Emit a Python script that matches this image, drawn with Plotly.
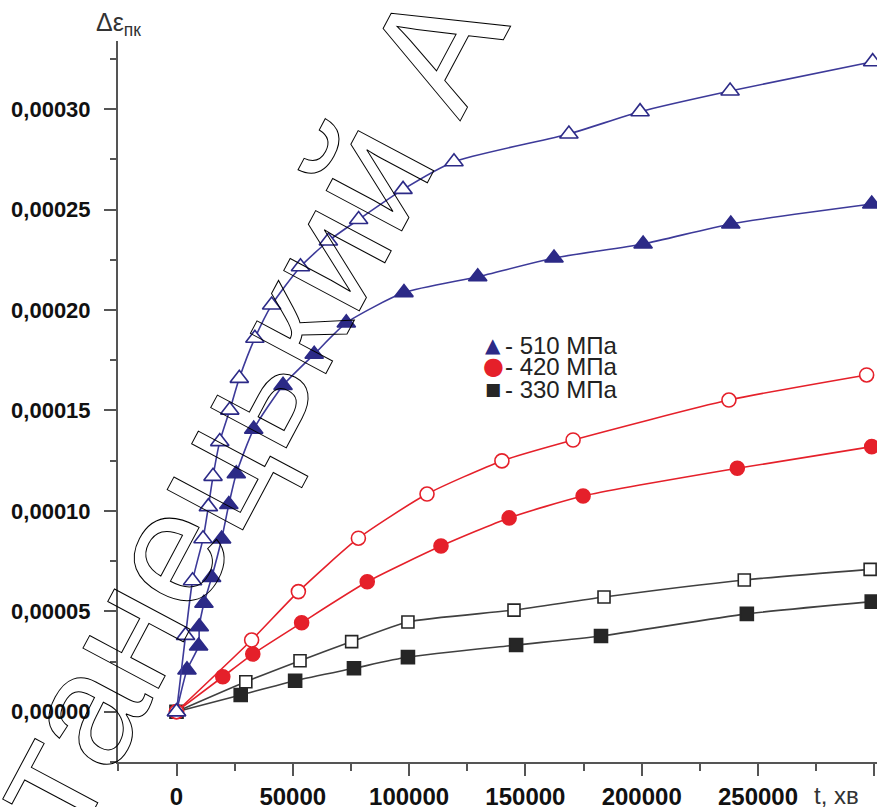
import base64
import plotly.graph_objects as go

# ---- measured creep strain increments, Δε_пк vs time t (хв) ----
# 510 МПа, open triangles (upper curve)
t_510_open = [0, 3900, 6900, 11400, 13700, 15700, 18600, 22900, 27000, 33700,
              40900, 53300, 65300, 78300, 97400, 119300, 168700, 199300, 238000, 299300]
e_510_open = [0.0, 3.80e-5, 6.52e-5, 8.61e-5, 1.021e-4, 1.172e-4, 1.345e-4, 1.502e-4,
              1.660e-4, 1.860e-4, 2.025e-4, 2.216e-4, 2.344e-4, 2.451e-4, 2.601e-4,
              2.739e-4, 2.877e-4, 2.988e-4, 3.091e-4, 3.237e-4]

# 510 МПа, filled triangles
t_510_fill = [0, 4500, 9500, 9800, 11800, 15100, 19400, 22500, 25700, 33200, 45800,
              59200, 73000, 97800, 129500, 162300, 200600, 238300, 298900]
e_510_fill = [0.0, 2.08e-5, 3.27e-5, 4.23e-5, 5.40e-5, 6.68e-5, 8.60e-5, 1.032e-4,
              1.185e-4, 1.407e-4, 1.625e-4, 1.780e-4, 1.936e-4, 2.087e-4, 2.166e-4,
              2.259e-4, 2.329e-4, 2.429e-4, 2.528e-4]

# 420 МПа, open circles
t_420_open = [0, 32300, 52400, 78200, 107700, 139900, 170500, 237500, 296700]
e_420_open = [0.0, 3.57e-5, 5.98e-5, 8.64e-5, 1.084e-4, 1.249e-4, 1.353e-4, 1.552e-4, 1.677e-4]

# 420 МПа, filled circles
t_420_fill = [0, 19900, 32800, 53800, 82000, 113700, 143000, 174800, 241100, 298900]
e_420_fill = [0.0, 1.74e-5, 2.87e-5, 4.43e-5, 6.47e-5, 8.25e-5, 9.65e-5, 1.074e-4,
              1.212e-4, 1.320e-4]

# 330 МПа, open squares
t_330_open = [0, 29800, 53100, 75300, 99500, 145100, 183800, 244100, 298200]
e_330_open = [0.0, 1.49e-5, 2.54e-5, 3.49e-5, 4.47e-5, 5.06e-5, 5.71e-5, 6.56e-5, 7.09e-5]

# 330 МПа, filled squares
t_330_fill = [0, 27600, 51000, 76300, 99500, 146000, 182500, 245200, 298900]
e_330_fill = [0.0, 8.3e-6, 1.54e-5, 2.16e-5, 2.72e-5, 3.32e-5, 3.77e-5, 4.87e-5, 5.48e-5]

legend_labels = ["- 510 МПа", "- 420 МПа", "- 330 МПа"]
x_title = "t, хв"
y_title = "Δε<sub>пк</sub>"
watermark = "Станецький А"

# ---- styling ----
W, H = 877, 807
ML, MR, MT, MB = 118, 0, 41, 45
PW, PH = W - ML - MR, H - MT - MB

BLUE = "#2c2a87"
BLUE_LINE = "#3d3a99"
RED = "#e5202a"
BLACK = "#262626"
GREY_LINE = "#404040"
AXIS = "#555555"
SANS = "Liberation Sans, Arial, sans-serif"


def paper_x(px):
    return (px - ML) / PW


def paper_y(py):
    return (H - MB - py) / PH


def series(t, e, symbol, mcolor, fill, lcolor, size, lw=1.6):
    return go.Scatter(
        x=t, y=e, mode="lines+markers",
        line=dict(color=lcolor, width=lw, shape="spline", smoothing=0.6),
        marker=dict(symbol=symbol, size=size, color=fill,
                    line=dict(color=mcolor, width=1.6)),
        showlegend=False, hoverinfo="skip",
    )


fig = go.Figure()
fig.add_trace(series(t_330_fill, e_330_fill, "square", BLACK, BLACK, GREY_LINE, 13))
fig.add_trace(series(t_330_open, e_330_open, "square", BLACK, "white", GREY_LINE, 12))
fig.add_trace(series(t_420_fill, e_420_fill, "circle", RED, RED, RED, 14))
fig.add_trace(series(t_420_open, e_420_open, "circle", RED, "white", RED, 14))
fig.add_trace(series(t_510_fill, e_510_fill, "triangle-up", BLUE, BLUE, BLUE_LINE, 16))
fig.add_trace(series(t_510_open, e_510_open, "triangle-up", BLUE, "white", BLUE_LINE, 16))

fig.update_xaxes(
    range=[-25150, 301160], tick0=0, dtick=50000, tickformat="d",
    showline=True, linecolor=AXIS, linewidth=2, showgrid=False, zeroline=False,
    ticks="outside", ticklen=12, tickwidth=2, tickcolor=AXIS,
    ticklabelstandoff=0, automargin=False,
    minor=dict(ticks="outside", ticklen=7, tickwidth=2, tickcolor=AXIS, dtick=25000, tick0=0),
    tickfont=dict(family=SANS, size=24, color="#111111", weight="bold"),
)
fig.update_yaxes(
    range=[-0.00002505, 0.000334], tick0=0, dtick=0.00005, tickformat=".5f",
    showline=True, linecolor=AXIS, linewidth=2, showgrid=False, zeroline=False,
    ticks="outside", ticklen=12, tickwidth=2, tickcolor=AXIS,
    ticklabelstandoff=9, automargin=False,
    minor=dict(ticks="outside", ticklen=6, tickwidth=2, tickcolor=AXIS, dtick=0.000025, tick0=0),
    tickfont=dict(family=SANS, size=22, color="#111111", weight="bold"),
)

# axis titles
fig.add_annotation(xref="paper", yref="paper", x=paper_x(94), y=paper_y(24),
                   xanchor="left", yanchor="middle", showarrow=False, text=y_title,
                   font=dict(family=SANS, size=25, color="#333333"))
fig.add_annotation(xref="paper", yref="paper", x=paper_x(812), y=paper_y(795),
                   xanchor="left", yanchor="middle", showarrow=False, text=x_title,
                   font=dict(family=SANS, size=24, color="#333333"))

# legend block: coloured symbol, then the stress label
glyphs = [("▲", BLUE, 20), ("●", RED, 24), ("■", BLACK, 17)]
rows_y = [345, 366, 389]
for (g, c, s), lab, ry in zip(glyphs, legend_labels, rows_y):
    fig.add_annotation(xref="paper", yref="paper", x=paper_x(493), y=paper_y(ry),
                       xanchor="center", yanchor="middle", showarrow=False, text=g,
                       borderpad=0,
                       font=dict(family="DejaVu Sans, sans-serif", size=s, color=c))
    fig.add_annotation(xref="paper", yref="paper", x=paper_x(504), y=paper_y(ry),
                       xanchor="left", yanchor="middle", showarrow=False, text=lab,
                       borderpad=0,
                       font=dict(family=SANS, size=24, color="#222222"))

# outlined diagonal signature text across the chart
sx, sy, ang, fs = 22, 945, -62, 162
svg = (
    f'<svg xmlns="http://www.w3.org/2000/svg" width="{W}" height="{H}" viewBox="0 0 {W} {H}">'
    f'<text x="{sx}" y="{sy}" transform="rotate({ang} {sx} {sy})" '
    f'font-family="Liberation Sans, Arial, sans-serif" font-size="{fs}" '
    f'fill="none" stroke="#000000" stroke-width="1.0">{watermark}</text></svg>'
)
src = "data:image/svg+xml;base64," + base64.b64encode(svg.encode("utf-8")).decode("ascii")
fig.add_layout_image(dict(source=src, xref="paper", yref="paper",
                          x=paper_x(0), y=paper_y(0), sizex=W / PW, sizey=H / PH,
                          xanchor="left", yanchor="top", sizing="stretch", layer="above"))

fig.update_layout(
    width=W, height=H,
    margin=dict(l=ML, r=MR, t=MT, b=MB, pad=0, autoexpand=False),
    paper_bgcolor="white", plot_bgcolor="white",
    separators=",.",
    showlegend=False,
)

fig.write_html("out.html", config={"displayModeBar": False})
